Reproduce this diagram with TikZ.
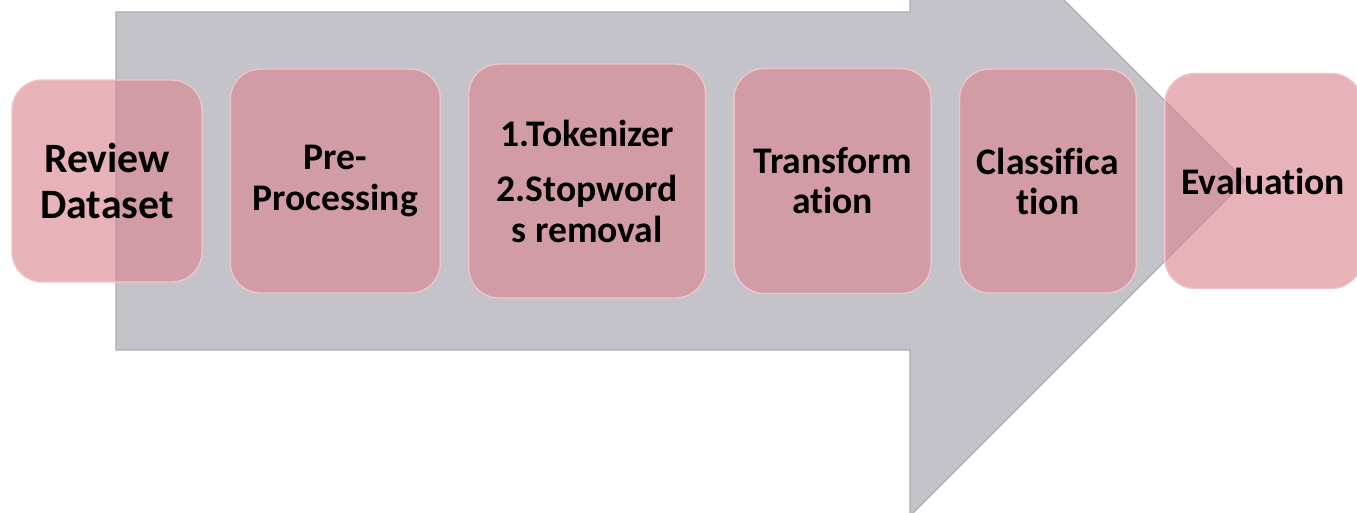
\documentclass[tikz,border=0pt]{standalone}
\usepackage{fontspec}
\setmainfont{Carlito}[Ligatures=NoCommon]
\usetikzlibrary{positioning}
\definecolor{arrowgray}{RGB}{195,195,201}
\definecolor{arrowedge}{RGB}{170,170,178}
\definecolor{stagepink}{RGB}{219,135,147}
\definecolor{stageedge}{RGB}{238,196,202}

\begin{document}
\begin{tikzpicture}[
    x=0.02cm, y=-0.02cm,
    node distance=0.54cm,
    stagebox/.style={rounded corners=0.6cm, fill=stagepink, fill opacity=0.64, text opacity=1, draw=stageedge, line width=0.8pt, align=center, font=\bfseries\fontsize{21.4}{22.8}\selectfont},
    bigarrow/.style={fill=arrowgray, draw=arrowedge, line width=0.6pt}
]
\useasboundingbox (0,0) rectangle (1357,513);
\clip (0,0) rectangle (1357,513);

% Big process arrow behind the stages
\draw[bigarrow] (116,12) -- (910,12) -- (910,-154) -- (1245,181) -- (910,516) -- (910,350) -- (116,350) -- cycle;

% Define nodes for the stages
\node[stagebox, minimum width=3.8cm, minimum height=4.04cm, font=\bfseries\fontsize{23.8}{26.7}\selectfont] (review_dataset) at (107,181) {Review\\Dataset};
\node[stagebox, right=of review_dataset, minimum width=4.2cm, minimum height=4.48cm] (pre_processing) {Pre-\\Processing};
\node[stagebox, right=of pre_processing, minimum width=4.74cm, minimum height=4.68cm] (tokenizer) {1.Tokenizer\\[9pt]2.Stopword\\s removal};
\node[stagebox, right=of tokenizer, minimum width=3.94cm, minimum height=4.5cm] (transformation) {Transform\\ation};
\node[stagebox, right=of transformation, minimum width=3.54cm, minimum height=4.48cm] (classification) {Classifica\\tion};
\node[stagebox, right=of classification, minimum width=3.94cm, minimum height=4.3cm] (evaluation) {Evaluation};

\end{tikzpicture}
\end{document}
